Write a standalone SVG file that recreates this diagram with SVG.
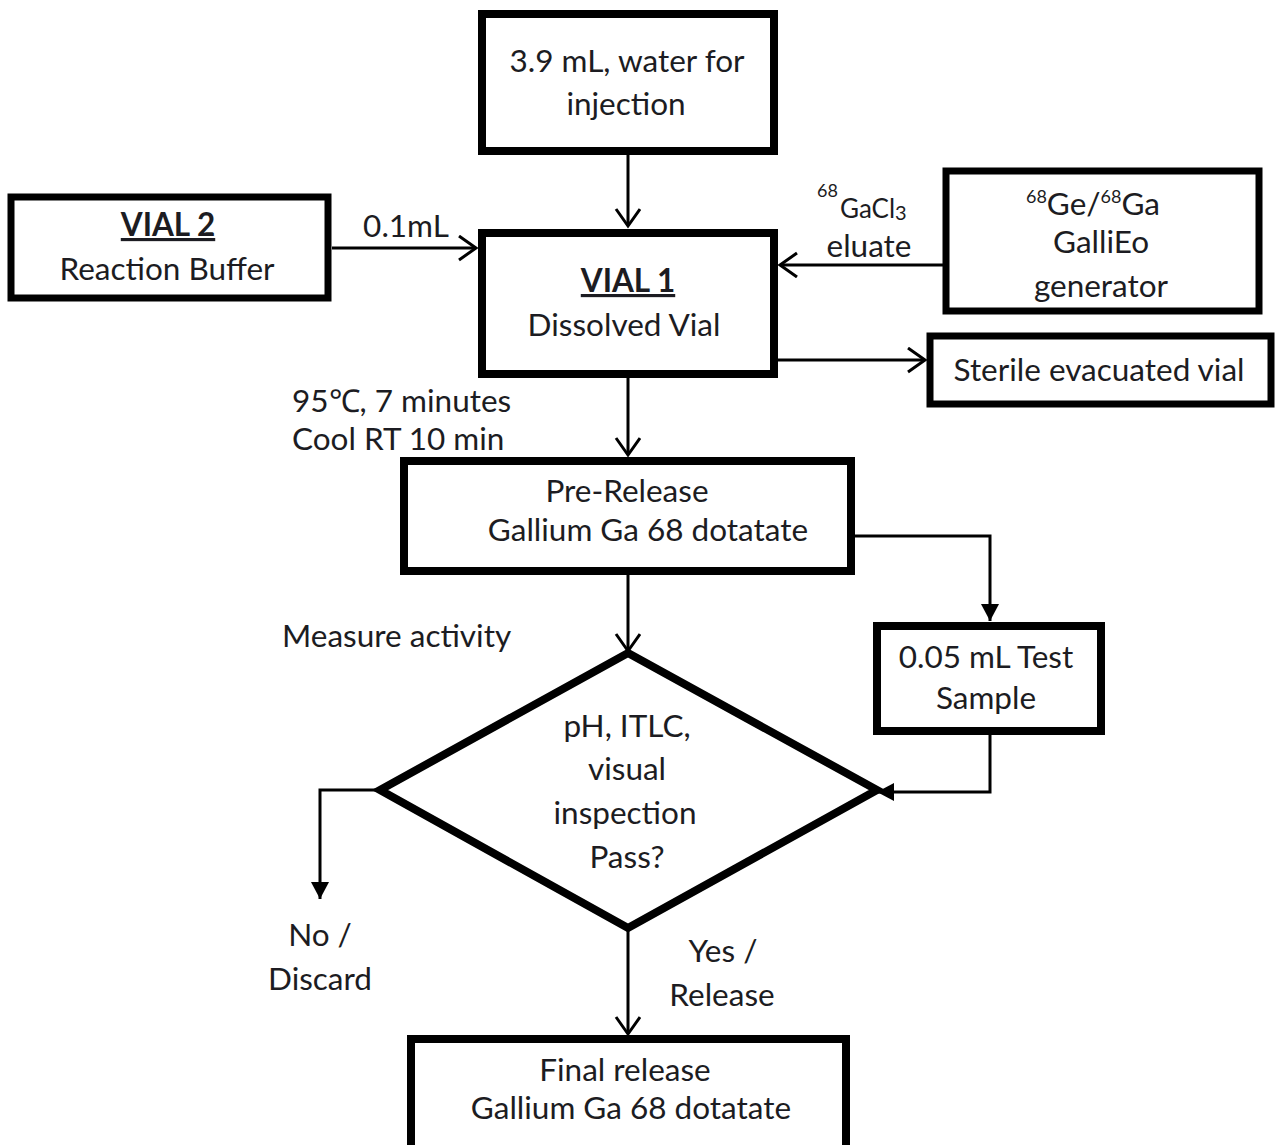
<svg xmlns="http://www.w3.org/2000/svg" width="1275" height="1145" viewBox="0 0 1275 1145">
<style>
  .box { fill: #fff; stroke: #000; stroke-width: 8; }
  .thin { stroke-width: 7; }
  .t { font-family: Lato, "Open Sans", "Liberation Sans", sans-serif; font-size: 31.5px; fill: #1c1c22; text-anchor: middle; }
  .l { text-anchor: start; }
  .b { font-weight: bold; text-decoration: underline; }
  .sup { font-size: 18px; }
  .conn { fill: none; stroke: #000; stroke-width: 3; }
</style>
<defs>
  <marker id="open" markerUnits="userSpaceOnUse" markerWidth="24" markerHeight="28" refX="20" refY="13" orient="auto">
    <path d="M3,1 L20,13 L3,25" fill="none" stroke="#000" stroke-width="3"/>
  </marker>
  <marker id="filled" markerUnits="userSpaceOnUse" markerWidth="20" markerHeight="20" refX="17" refY="9" orient="auto">
    <path d="M0,0 L17,9 L0,18 Z" fill="#000"/>
  </marker>
</defs>

<g id="connectors">
  <path class="conn" d="M628,155 V226" marker-end="url(#open)"/>
  <path class="conn" d="M332,248 H476" marker-end="url(#open)"/>
  <path class="conn" d="M943,265 H780" marker-end="url(#open)"/>
  <path class="conn" d="M778,360 H925" marker-end="url(#open)"/>
  <path class="conn" d="M628,378 V455" marker-end="url(#open)"/>
  <path class="conn" d="M855,536 H990 V621" marker-end="url(#filled)"/>
  <path class="conn" d="M628,575 V651" marker-end="url(#open)"/>
  <path class="conn" d="M990,735 V792 H877" marker-end="url(#filled)"/>
  <path class="conn" d="M380,790 H320 V899" marker-end="url(#filled)"/>
  <path class="conn" d="M628,928 V1034" marker-end="url(#open)"/>
</g>

<g id="water">
  <rect class="box" x="482" y="14" width="292" height="137"/>
  <text class="t" x="627" y="72">3.9 mL, water for</text>
  <text class="t" x="626" y="115">injection</text>
</g>

<g id="vial2">
  <rect class="box thin" x="11" y="197" width="317" height="101"/>
  <text class="t b" x="168" y="236">VIAL 2</text>
  <text class="t" x="167" y="280">Reaction Buffer</text>
</g>
<text class="t" x="406" y="237">0.1mL</text>

<g id="vial1">
  <rect class="box" x="482" y="233" width="292" height="141"/>
  <text class="t b" x="628" y="292">VIAL 1</text>
  <text class="t" x="624" y="336">Dissolved Vial</text>
</g>

<g id="generator">
  <rect class="box thin" x="946" y="171" width="313" height="140"/>
  <text class="t" x="1093" y="215"><tspan class="sup" dy="-12">68</tspan><tspan dy="12">Ge/</tspan><tspan class="sup" dy="-12">68</tspan><tspan dy="12">Ga</tspan></text>
  <text class="t" x="1101" y="253">GalliEo</text>
  <text class="t" x="1101" y="297">generator</text>
</g>
<text class="t l" x="817" y="197"><tspan class="sup">68</tspan></text>
<text class="t l" x="840" y="218" style="font-size:26px">GaCl<tspan style="font-size:20px" dy="2">3</tspan></text>
<text class="t" x="869" y="257">eluate</text>

<g id="sterile">
  <rect class="box thin" x="930" y="336" width="341" height="68"/>
  <text class="t" x="1099" y="381">Sterile evacuated vial</text>
</g>

<text class="t l" x="292" y="412">95℃, 7 minutes</text>
<text class="t l" x="292" y="450">Cool RT 10 min</text>

<g id="prerelease">
  <rect class="box" x="404" y="461" width="447" height="110"/>
  <text class="t" x="627" y="502">Pre-Release</text>
  <text class="t" x="648" y="541">Gallium Ga 68 dotatate</text>
</g>

<text class="t l" x="282" y="647">Measure activity</text>

<g id="testsample">
  <rect class="box" x="877" y="626" width="224" height="105"/>
  <text class="t" x="986" y="668">0.05 mL Test</text>
  <text class="t" x="986" y="709">Sample</text>
</g>

<g id="decision">
  <polygon class="box" points="628,653 877,790 628,928 380,790"/>
  <text class="t" x="627" y="737">pH, ITLC,</text>
  <text class="t" x="627" y="780">visual</text>
  <text class="t" x="625" y="824">inspection</text>
  <text class="t" x="627" y="868">Pass?</text>
</g>

<text class="t" x="320" y="946">No /</text>
<text class="t" x="320" y="990">Discard</text>
<text class="t" x="723" y="962">Yes /</text>
<text class="t" x="722" y="1006">Release</text>

<g id="final">
  <rect class="box" x="411" y="1039" width="435" height="120"/>
  <text class="t" x="625" y="1081">Final release</text>
  <text class="t" x="631" y="1119">Gallium Ga 68 dotatate</text>
</g>
</svg>
